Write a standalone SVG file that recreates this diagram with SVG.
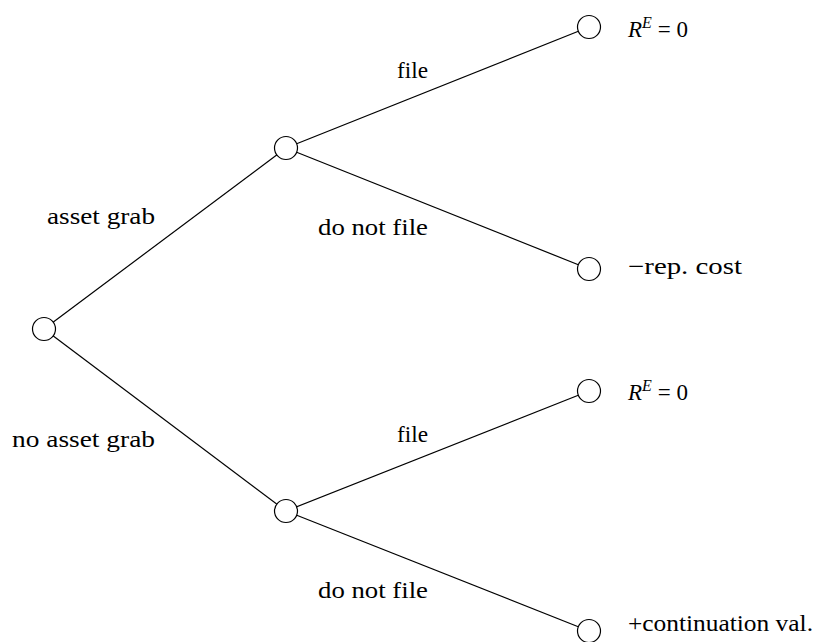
<svg xmlns="http://www.w3.org/2000/svg" width="828" height="642" viewBox="0 0 828 642">
<style>
.e{stroke:#000;stroke-width:1.2;fill:none}
.n{fill:#fff;stroke:#000;stroke-width:1.2}
</style>
<rect width="828" height="642" fill="#fff"/>
<g id="connectors">
<line class="e" x1="44" y1="329" x2="286" y2="148"/>
<line class="e" x1="44" y1="329" x2="286" y2="511"/>
<line class="e" x1="286" y1="148" x2="589" y2="27"/>
<line class="e" x1="286" y1="148" x2="589" y2="269"/>
<line class="e" x1="286" y1="511" x2="589" y2="391"/>
<line class="e" x1="286" y1="511" x2="589" y2="631"/>
<text x="47" y="224" font-family="Liberation Serif" font-size="23" textLength="108" lengthAdjust="spacingAndGlyphs">asset grab</text>
<text x="12" y="447" font-family="Liberation Serif" font-size="23" textLength="143" lengthAdjust="spacingAndGlyphs">no asset grab</text>
<text x="397" y="78" font-family="Liberation Serif" font-size="23" textLength="31" lengthAdjust="spacingAndGlyphs">file</text>
<text x="318" y="235" font-family="Liberation Serif" font-size="23" textLength="110" lengthAdjust="spacingAndGlyphs">do not file</text>
<text x="397" y="442" font-family="Liberation Serif" font-size="23" textLength="31" lengthAdjust="spacingAndGlyphs">file</text>
<text x="318" y="598" font-family="Liberation Serif" font-size="23" textLength="110" lengthAdjust="spacingAndGlyphs">do not file</text>
</g>
<g id="root"><circle class="n" cx="44" cy="329" r="11.5"/></g>
<g id="n-grab"><circle class="n" cx="286" cy="148" r="11.5"/></g>
<g id="n-nograb"><circle class="n" cx="286" cy="511" r="11.5"/></g>
<g id="leaf1"><circle class="n" cx="589" cy="27" r="11.5"/>
<text x="628" y="37" font-family="Liberation Serif" font-size="23"><tspan font-style="italic">R</tspan><tspan font-style="italic" font-size="16" dy="-9">E</tspan><tspan dy="9" dx="6">= 0</tspan></text></g>
<g id="leaf2"><circle class="n" cx="589" cy="269" r="11.5"/>
<text x="628" y="274" font-family="Liberation Serif" font-size="23" textLength="114" lengthAdjust="spacingAndGlyphs">−rep.  cost</text></g>
<g id="leaf3"><circle class="n" cx="589" cy="391" r="11.5"/>
<text x="628" y="400" font-family="Liberation Serif" font-size="23"><tspan font-style="italic">R</tspan><tspan font-style="italic" font-size="16" dy="-9">E</tspan><tspan dy="9" dx="6">= 0</tspan></text></g>
<g id="leaf4"><circle class="n" cx="589" cy="631" r="11.5"/>
<text x="628" y="631" font-family="Liberation Serif" font-size="23" textLength="185" lengthAdjust="spacingAndGlyphs">+continuation val.</text></g>
</svg>
